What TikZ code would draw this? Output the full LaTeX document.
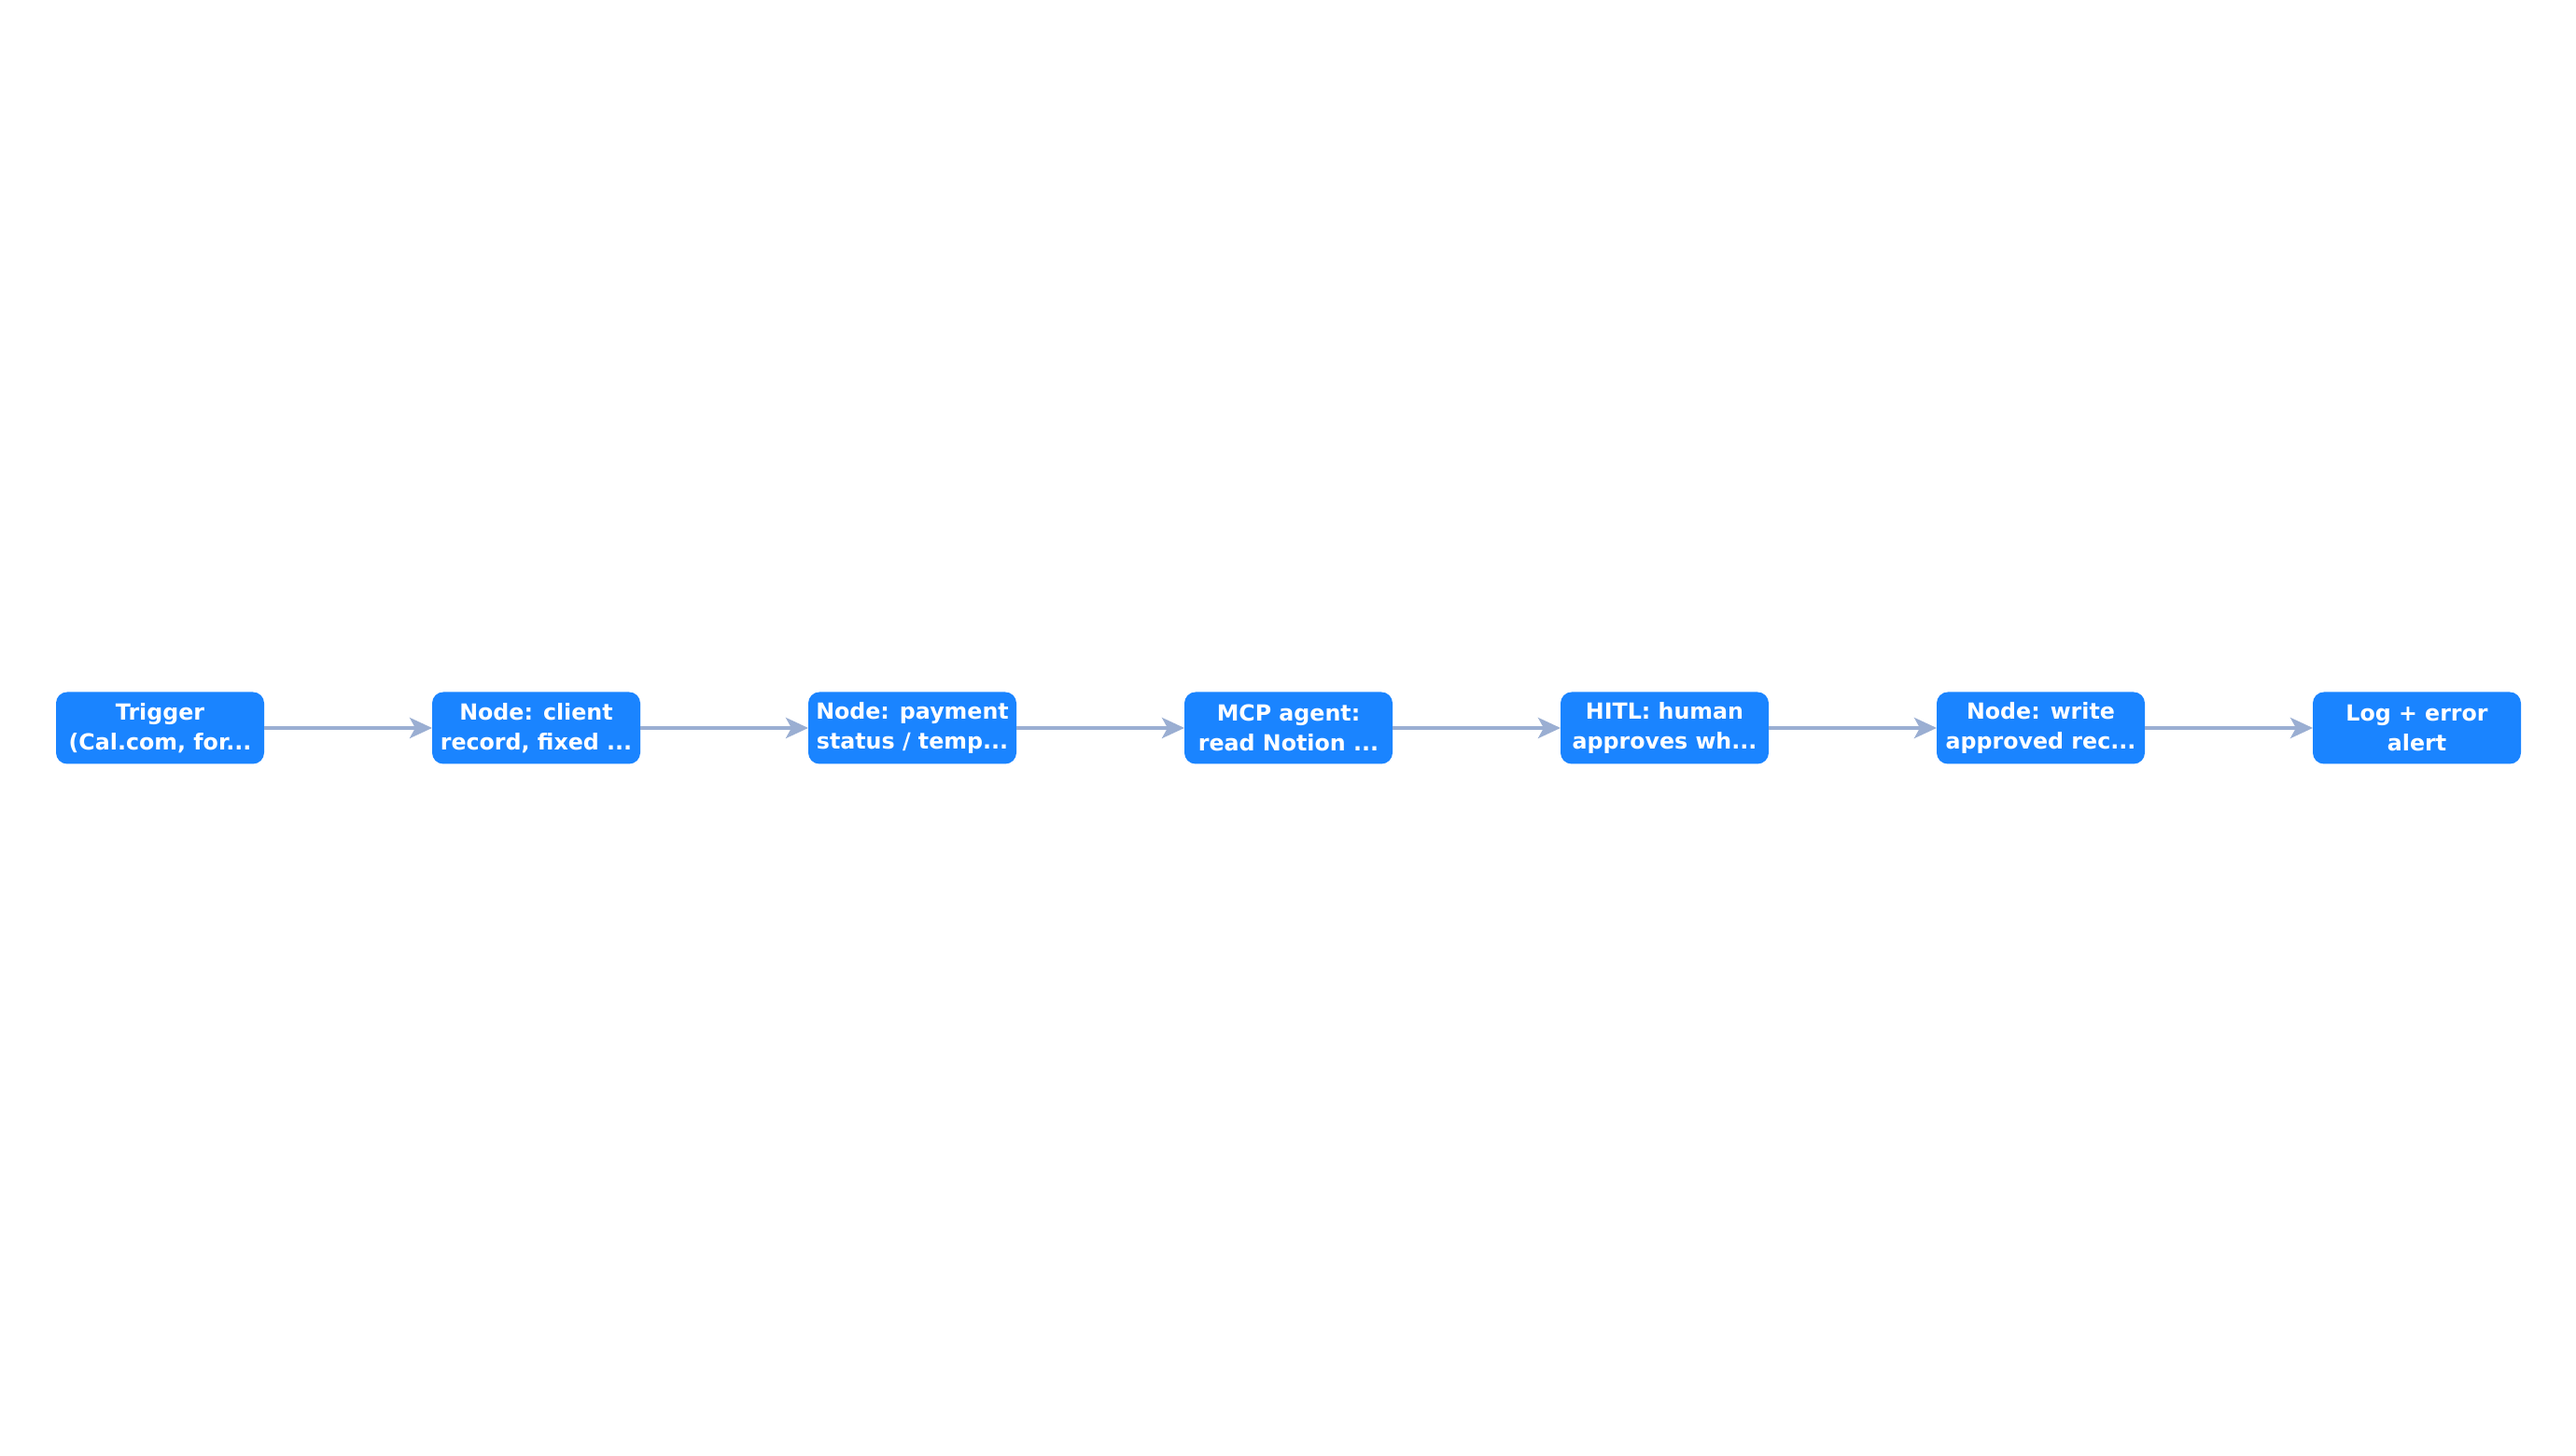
\documentclass[tikz,border=0pt]{standalone}
\usepackage{fontspec}
\setmainfont{DejaVu Sans}
\usepackage{xcolor}
\usetikzlibrary{positioning,arrows.meta}
\definecolor{bg}{HTML}{FFFFFF}
\definecolor{boxfill}{HTML}{1A84FF}
\definecolor{text}{HTML}{FFFFFF}
\definecolor{link}{HTML}{9AAED2}
\tikzset{
  stage/.style={fill=boxfill, rounded corners=0.12cm, minimum width=2.23cm,
    minimum height=0.77cm, inner sep=0pt, outer sep=0pt, align=center, text=text,
    font=\fontsize{6.75}{9.1}\selectfont\bfseries},
  flow/.style={draw=link, line width=1.1pt, -{Stealth[length=0.24cm, width=0.22cm, inset=0.06cm]}}
}
\begin{document}
\begin{tikzpicture}[node distance=1.8cm]
  \useasboundingbox[fill=bg] (0,0) rectangle (27.6,15.6);
  \node[stage] (trig) at (1.715,7.80) {Trigger\\(Cal.com, for...};
  \node[stage, right=of trig] (client) {Node: client\\record, fixed ...};
  \node[stage, right=of client] (pay) {Node: payment\\status / temp...};
  \node[stage, right=of pay] (mcp) {MCP agent:\\read Notion ...};
  \node[stage, right=of mcp] (hitl) {HITL: human\\approves wh...};
  \node[stage, right=of hitl] (write) {Node: write\\approved rec...};
  \node[stage, right=of write] (log) {Log + error\\alert};
  \draw[flow] (trig) -- (client);
  \draw[flow] (client) -- (pay);
  \draw[flow] (pay) -- (mcp);
  \draw[flow] (mcp) -- (hitl);
  \draw[flow] (hitl) -- (write);
  \draw[flow] (write) -- (log);
\end{tikzpicture}
\end{document}
